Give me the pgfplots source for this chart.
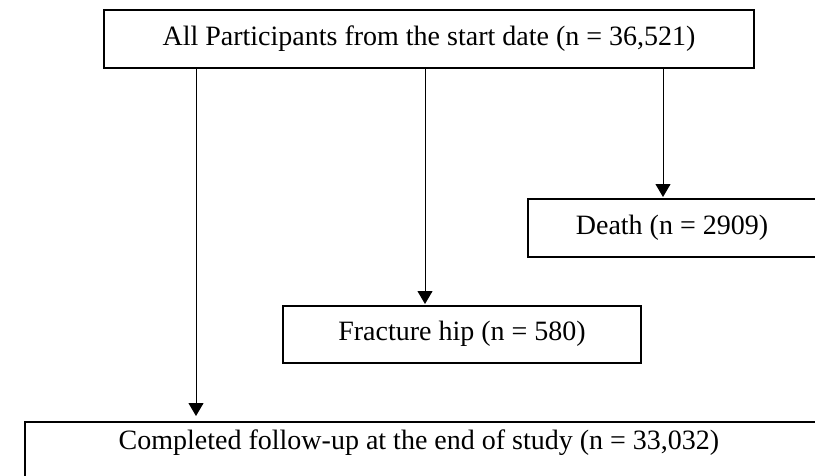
\documentclass[border=0pt]{standalone}
\usepackage{fontspec}
\setmainfont{Liberation Serif}
\usepackage{pgfplots}
\pgfplotsset{compat=1.18}
\usetikzlibrary{arrows.meta}
\begin{document}
\begin{tikzpicture}
\begin{axis}[name=ax, width=815pt, height=475pt, scale only axis,
  xmin=0, xmax=815, ymin=0, ymax=475, y dir=reverse, hide axis, clip=false]
% boxes
\addplot[black, line width=2pt, line cap=rect, line join=miter] coordinates {(104,10) (754,10) (754,68) (104,68) (104,10)};
\addplot[black, line width=2pt, line cap=rect, line join=miter] coordinates {(528,199) (816,199) (816,257) (528,257) (528,199)};
\addplot[black, line width=2pt, line cap=rect, line join=miter] coordinates {(283,306) (641,306) (641,363) (283,363) (283,306)};
\addplot[black, line width=2pt, line cap=rect, line join=miter] coordinates {(25,422) (817,422) (817,480) (25,480) (25,422)};
% arrows
\addplot[black, line width=1pt, -{Triangle[width=15pt,length=13pt]}] coordinates {(196,68) (196,416)};
\addplot[black, line width=1pt, -{Triangle[width=15pt,length=13pt]}] coordinates {(425,68) (425,304)};
\addplot[black, line width=1pt, -{Triangle[width=15pt,length=13pt]}] coordinates {(663,68) (663,197)};
% labels
\node[font=\fontsize{28}{32}\selectfont] at (axis cs:429,39) {All Participants from the start date (n = 36,521)};
\node[font=\fontsize{28}{32}\selectfont] at (axis cs:672,228) {Death (n = 2909)};
\node[font=\fontsize{28}{32}\selectfont] at (axis cs:462,334) {Fracture hip (n = 580)};
\node[font=\fontsize{28}{32}\selectfont] at (axis cs:419,443) {Completed follow-up at the end of study (n = 33,032)};
\end{axis}
\pgfresetboundingbox
\path (ax.south west) rectangle (ax.north east);
\end{tikzpicture}
\end{document}
